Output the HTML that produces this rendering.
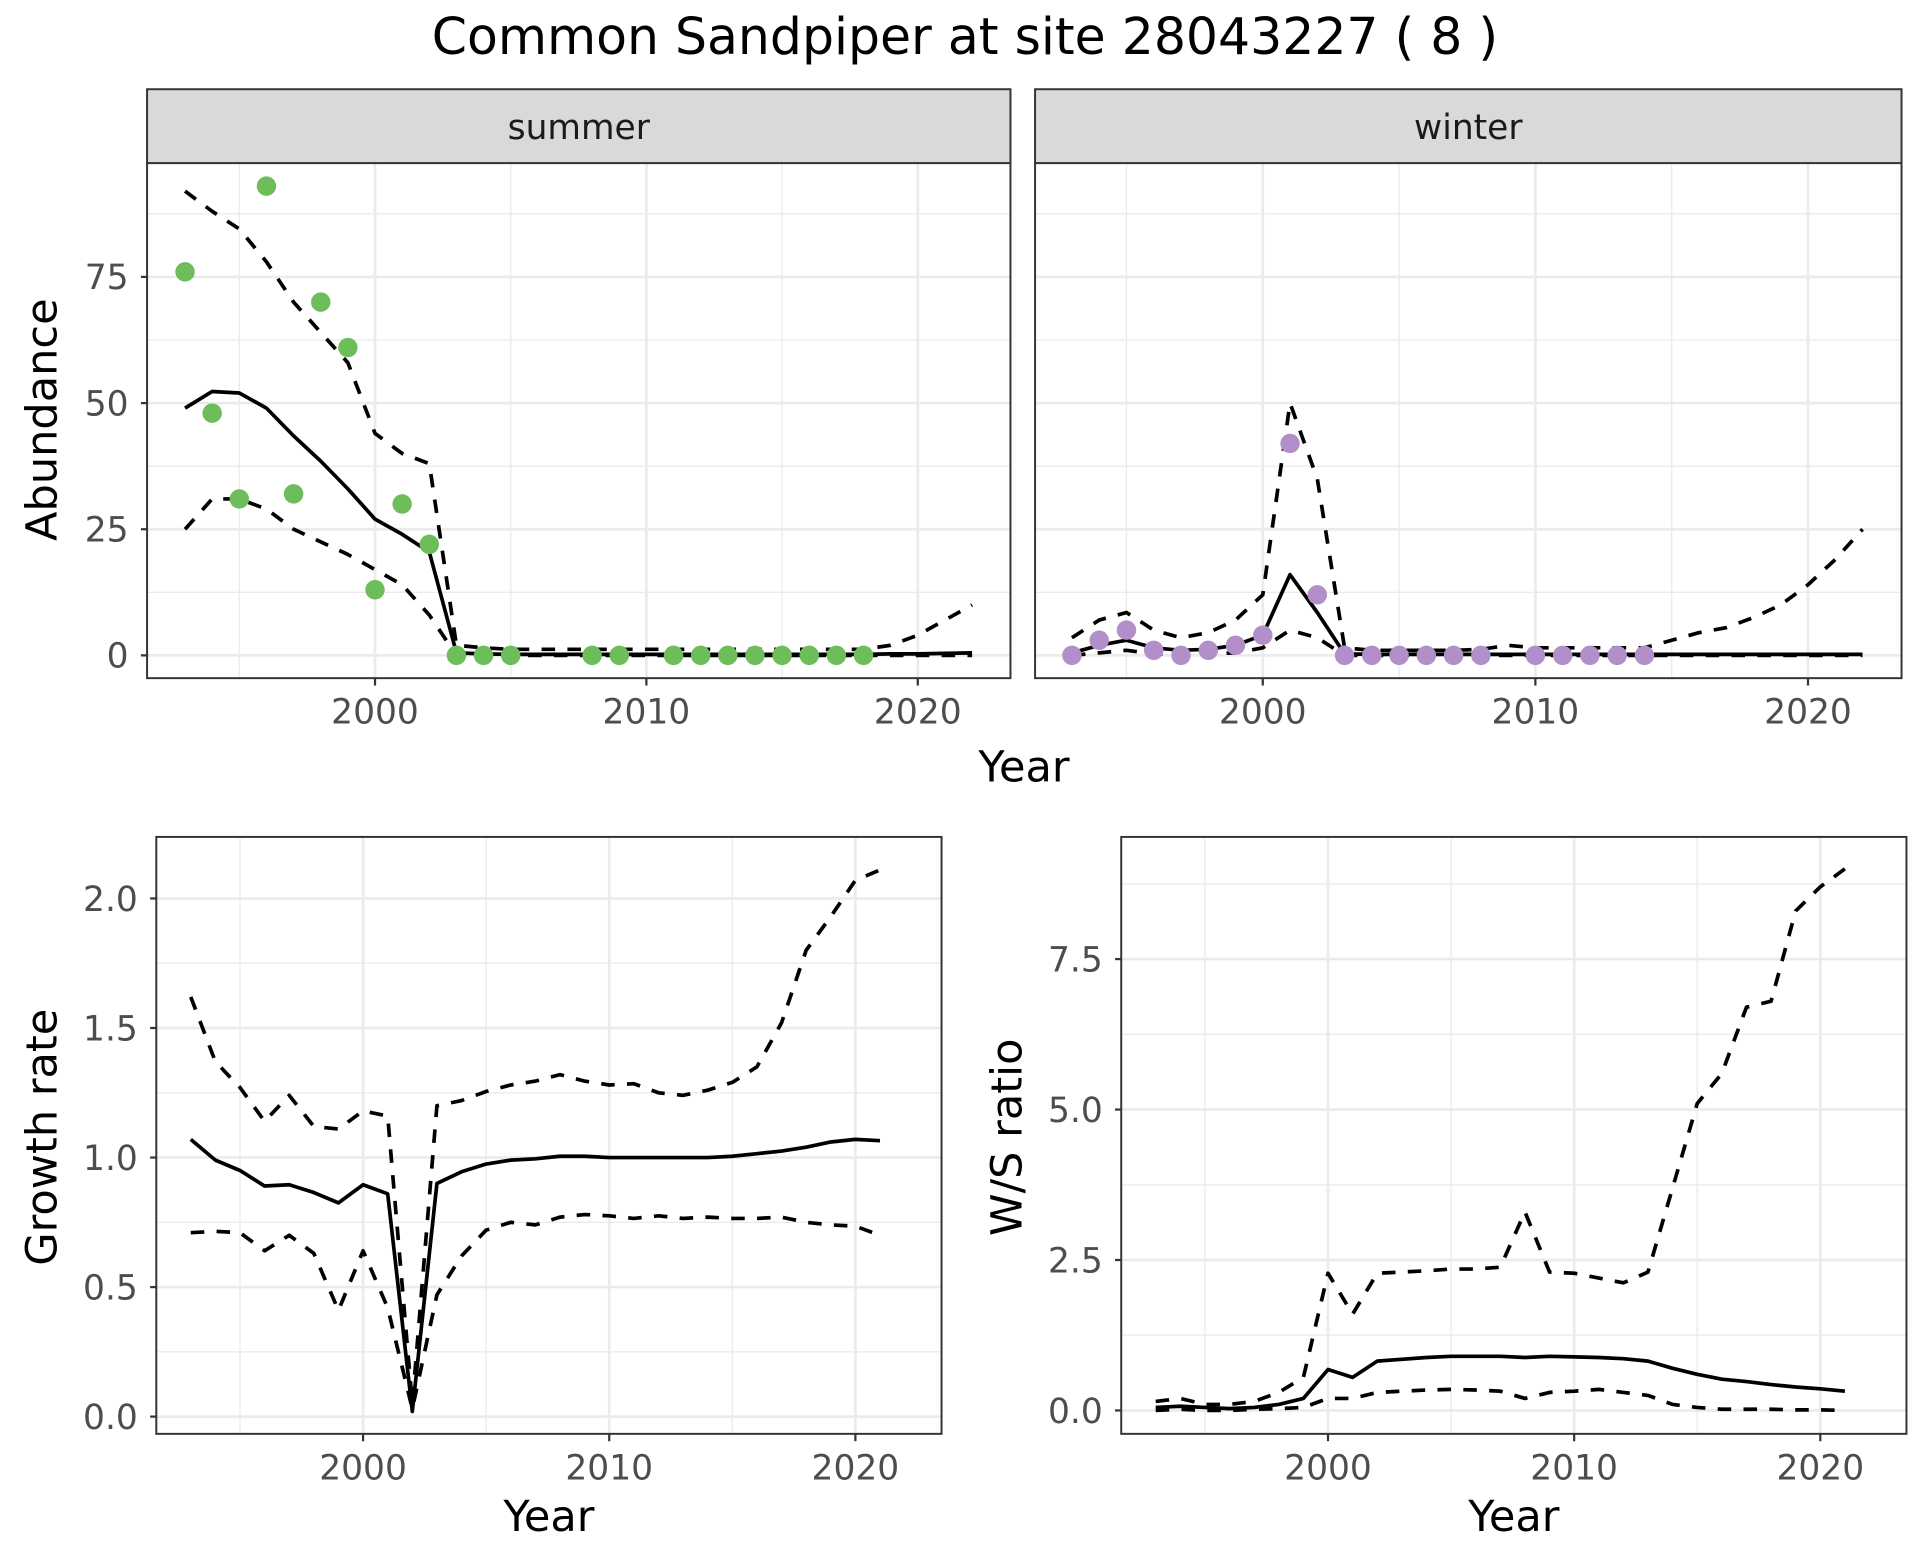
<!DOCTYPE html>
<html><head><meta charset="utf-8"><style>
html,body{margin:0;padding:0;background:#fff;}
svg{display:block;font-family:"DejaVu Sans","Liberation Sans",sans-serif;}
</style></head><body>
<svg id="chart" width="1920" height="1560" viewBox="0 0 1560 1267.5" xmlns="http://www.w3.org/2000/svg">
<text x="784" y="44" font-size="41" text-anchor="middle" fill="#000">Common Sandpiper at site 28043227 ( 8 )</text>
</svg>
<script>
const yearsA = [1993,1994,1995,1996,1997,1998,1999,2000,2001,2002,2003,2004,2005,2006,2007,2008,2009,2010,2011,2012,2013,2014,2015,2016,2017,2018,2019,2020,2021,2022];
const summerPtYears = [1993,1994,1995,1996,1997,1998,1999,2000,2001,2002,2003,2004,2005,2008,2009,2011,2012,2013,2014,2015,2016,2017,2018];
const summerPts = [76,48,31,93,32,70,61,13,30,22,0,0,0,0,0,0,0,0,0,0,0,0,0];
const summerMean = [49,52.3,52,49,43.5,38.5,33,27,24,20.5,0.5,0.3,0.2,0.2,0.2,0.2,0.2,0.2,0.2,0.2,0.2,0.2,0.2,0.2,0.2,0.2,0.3,0.3,0.4,0.5];
const summerUpper = [92,88,84.5,78,70,64,58,44,40,38,2,1.5,1.2,1.2,1.2,1.2,1.2,1.2,1.2,1.2,1.2,1.2,1.2,1.2,1.2,1.2,2,4,7,10];
const summerLower = [25,31,31,29,25,22.5,20,17,14,8,0,0,0,0,0,0,0,0,0,0,0,0,0,0,0,0,0,0,0,0];
const winterPtYears = [1993,1994,1995,1996,1997,1998,1999,2000,2001,2002,2003,2004,2005,2006,2007,2008,2010,2011,2012,2013,2014];
const winterPts = [0,3,5,1,0,1,2,4,42,12,0,0,0,0,0,0,0,0,0,0,0];
const winterMean = [0.5,2,3,1.5,1,1.2,2,4,16,8.5,0.3,0.2,0.2,0.2,0.2,0.2,0.2,0.2,0.2,0.2,0.2,0.2,0.2,0.2,0.2,0.2,0.2,0.2,0.2,0.2];
const winterUpper = [3.5,7,8.5,5,3.5,4.5,7,12,50,35,1.5,1,1,1,1,1.2,2,1.5,1.5,1.5,1.5,1.5,3,4.5,5.5,7.5,10,14,19,25];
const winterLower = [0,0.5,1,0.3,0.2,0.3,0.5,1.5,5,3.5,0,0,0,0,0,0,0,0,0,0,0,0,0,0,0,0,0,0,0,0];
const yearsB = [1993,1994,1995,1996,1997,1998,1999,2000,2001,2002,2003,2004,2005,2006,2007,2008,2009,2010,2011,2012,2013,2014,2015,2016,2017,2018,2019,2020,2021];
const growthMean = [1.07,0.99,0.95,0.89,0.895,0.865,0.825,0.895,0.86,0.02,0.9,0.945,0.975,0.99,0.995,1.005,1.005,1.0,1.0,1.0,1.0,1.0,1.005,1.015,1.025,1.04,1.06,1.07,1.065];
const growthUpper = [1.62,1.37,1.27,1.14,1.24,1.12,1.11,1.18,1.16,0.05,1.20,1.22,1.255,1.28,1.295,1.32,1.295,1.28,1.285,1.25,1.24,1.26,1.29,1.35,1.52,1.80,1.93,2.07,2.11];
const growthLower = [0.71,0.715,0.71,0.64,0.70,0.63,0.41,0.64,0.42,0.03,0.47,0.62,0.72,0.75,0.74,0.77,0.78,0.775,0.765,0.775,0.765,0.77,0.765,0.765,0.77,0.75,0.74,0.735,0.70];
const wsMean = [0.05,0.07,0.05,0.03,0.05,0.1,0.2,0.68,0.55,0.82,0.85,0.88,0.9,0.9,0.9,0.88,0.9,0.89,0.88,0.86,0.82,0.7,0.6,0.52,0.48,0.43,0.39,0.36,0.32];
const wsUpper = [0.15,0.2,0.1,0.1,0.15,0.3,0.55,2.28,1.6,2.28,2.3,2.32,2.35,2.35,2.38,3.3,2.3,2.28,2.2,2.12,2.3,3.7,5.1,5.6,6.7,6.8,8.3,8.7,9.0];
const wsLower = [0.0,0.02,0.0,0.0,0.02,0.03,0.05,0.2,0.2,0.3,0.32,0.34,0.35,0.34,0.32,0.2,0.3,0.32,0.35,0.3,0.25,0.1,0.05,0.02,0.02,0.02,0.01,0.01,0.0];
const xTicks = [2000,2010,2020];
const abundTicks = [0,25,50,75];
const growthTicks = [0.0,0.5,1.0,1.5,2.0];
const growthTickLabels = ["0.0","0.5","1.0","1.5","2.0"];
const wsTicks = [0,2.5,5,7.5];
const wsTickLabels = ["0.0","2.5","5.0","7.5"];

const svg = document.getElementById('chart');
const NS = 'http://www.w3.org/2000/svg';
function mk(tag, attrs, parent){ const e=document.createElementNS(NS,tag); for(const k in attrs) e.setAttribute(k,attrs[k]); (parent||svg).appendChild(e); return e; }

function panel(o){
  const g = mk('g',{});
  
  
  mk('rect',{x:o.x0,y:o.y0,width:o.x1-o.x0,height:o.y1-o.y0,fill:'#fff'},g);
  for(let i=0;i<o.yTicks.length+1;i++){
    const v = o.yTicks[0] + (i-0.5)*(o.yTicks[1]-o.yTicks[0]);
    const y=o.ya(v); if(y>o.y0&&y<o.y1) mk('line',{x1:o.x0,x2:o.x1,y1:y,y2:y,stroke:'#ebebeb','stroke-width':1.1},g);
  }
  for(const yr of [1995,2005,2015]){ const x=o.xa(yr); if(x>o.x0&&x<o.x1) mk('line',{x1:x,x2:x,y1:o.y0,y2:o.y1,stroke:'#ebebeb','stroke-width':1.1},g); }
  o.yTicks.forEach((v,i)=>{
    const y=o.ya(v);
    mk('line',{x1:o.x0,x2:o.x1,y1:y,y2:y,stroke:'#ebebeb','stroke-width':2.2},g);
    if(o.yLabels){
      mk('line',{x1:o.x0-5,x2:o.x0,y1:y,y2:y,stroke:'#333','stroke-width':1.8},g);
      const t=mk('text',{x:o.x0-15,y:y+10,'font-size':28,'text-anchor':'end',fill:'#4d4d4d'},g);
      t.textContent=o.yLabels[i];
      
      
    }
  });
  xTicks.forEach(yr=>{
    const x=o.xa(yr);
    mk('line',{x1:x,x2:x,y1:o.y0,y2:o.y1,stroke:'#ebebeb','stroke-width':2.2},g);
    mk('line',{x1:x,x2:x,y1:o.y1,y2:o.y1+6,stroke:'#333','stroke-width':1.8},g);
    const t=mk('text',{x:x,y:o.y1+37,'font-size':28,'text-anchor':'middle',fill:'#4d4d4d'},g);
    t.textContent=yr;
    
    
  });
  return g;
}
function line(g,o,xs,vs,dashed,name){
  const d = xs.map((x,i)=>(i?'L':'M')+o.xa(x).toFixed(2)+','+o.ya(vs[i]).toFixed(2)).join(' ');
  const p = mk('path',{d:d,fill:'none',stroke:'#000','stroke-width':3,'stroke-linejoin':'round'},g);
  if(dashed) p.setAttribute('stroke-dasharray','11,10');
  
  
}
function points(g,o,xs,vs,color,name){
  xs.forEach((x,i)=>{
    const c=mk('circle',{cx:o.xa(x),cy:o.ya(vs[i]),r:7.9,fill:color},g);
    
    
  });
}
function border(g,o){ mk('rect',{x:o.x0,y:o.y0,width:o.x1-o.x0,height:o.y1-o.y0,fill:'none',stroke:'#333','stroke-width':1.6},g); }
function strip(o,label,name){
  const g=mk('g',{});
  
  
  mk('rect',{x:o.x0,y:72.5,width:o.x1-o.x0,height:o.y0-72.5,fill:'#d9d9d9',stroke:'#333','stroke-width':1.6},g);
  const t=mk('text',{x:(o.x0+o.x1)/2,y:113,'font-size':28,'text-anchor':'middle',fill:'#1a1a1a'},g);
  t.textContent=label;
}
function label(txt,x,y,rot,name){
  const t=mk('text',{x:x,y:y,'font-size':35,'text-anchor':'middle',fill:'#000'});
  if(rot) t.setAttribute('transform','rotate(-90 '+x+' '+y+')');
  t.textContent=txt;
  
  
}

// Summer
const oS={x0:119.5,x1:821,y0:132.5,y1:551,xa:y=>304.7+(y-2000)*22.05,ya:v=>532.5-v*4.1,yTicks:abundTicks,yLabels:abundTicks.map(String),name:'summer-panel'};
const gS=panel(oS);
line(gS,oS,yearsA,summerUpper,true,'summer-upper-ci');
line(gS,oS,yearsA,summerLower,true,'summer-lower-ci');
line(gS,oS,yearsA,summerMean,false,'summer-mean-line');
points(gS,oS,summerPtYears,summerPts,'#6dbd5b','summer-count-point');
border(gS,oS); strip(oS,'summer','summer-strip');

// Winter
const oW={x0:841,x1:1545,y0:132.5,y1:551,xa:y=>1026+(y-2000)*22.15,ya:v=>532.5-v*4.1,yTicks:abundTicks,yLabels:null,name:'winter-panel'};
const gW=panel(oW);
line(gW,oW,yearsA,winterUpper,true,'winter-upper-ci');
line(gW,oW,yearsA,winterLower,true,'winter-lower-ci');
line(gW,oW,yearsA,winterMean,false,'winter-mean-line');
points(gW,oW,winterPtYears,winterPts,'#b28fc8','winter-count-point');
border(gW,oW); strip(oW,'winter','winter-strip');

label('Abundance',46,341,true,'abundance-axis-title');
label('Year',832,635,false,'top-x-axis-title');

// Growth
const oG={x0:127,x1:765,y0:680,y1:1165,xa:y=>295+(y-2000)*20,ya:v=>1151-v*210.5,yTicks:growthTicks,yLabels:growthTickLabels,name:'growth-panel'};
const gG=panel(oG);
line(gG,oG,yearsB,growthUpper,true,'growth-upper-ci');
line(gG,oG,yearsB,growthLower,true,'growth-lower-ci');
line(gG,oG,yearsB,growthMean,false,'growth-mean-line');
border(gG,oG);
label('Growth rate',46,924,true,'growth-axis-title');
label('Year',446,1244,false,'growth-x-axis-title');

// W/S
const oR={x0:911,x1:1549,y0:680,y1:1165,xa:y=>1079+(y-2000)*20,ya:v=>1146-v*48.9,yTicks:wsTicks,yLabels:wsTickLabels,name:'ws-ratio-panel'};
const gR=panel(oR);
line(gR,oR,yearsB,wsUpper,true,'ws-upper-ci');
line(gR,oR,yearsB,wsLower,true,'ws-lower-ci');
line(gR,oR,yearsB,wsMean,false,'ws-mean-line');
border(gR,oR);
label('W/S ratio',830,924,true,'ws-axis-title');
label('Year',1230,1244,false,'ws-x-axis-title');
</script>
</body></html>
